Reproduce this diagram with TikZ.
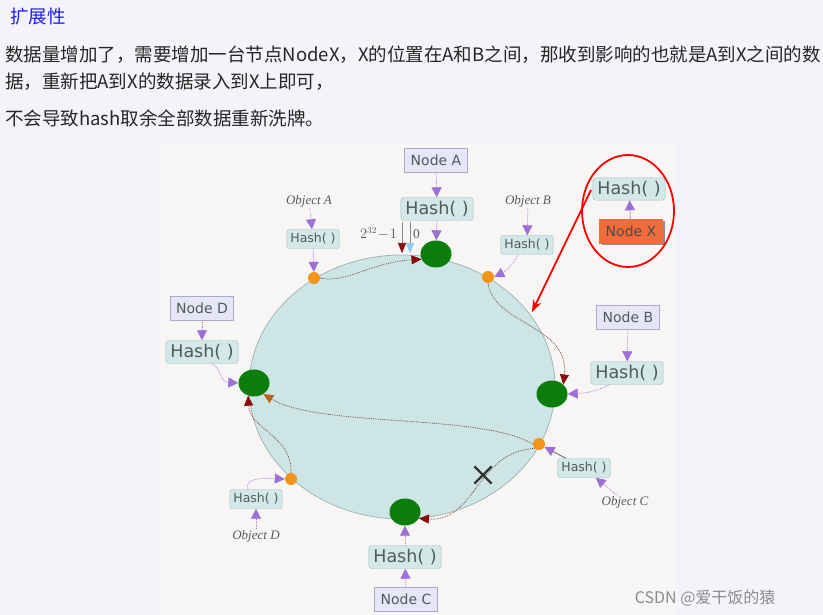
\documentclass[tikz,border=0pt]{standalone}
\usepackage{fontspec}
\setmainfont{Liberation Serif}
\setsansfont{DejaVu Sans}
\newfontfamily\cjkfont{Noto Sans CJK SC}
\usepackage{tikz}
\usetikzlibrary{arrows.meta,shapes.geometric,shapes.misc,shadows,positioning}

\definecolor{pagebg}{HTML}{F3F4F9}
\definecolor{imgbg}{HTML}{F8F6F4}
\definecolor{ringfill}{HTML}{CDE5E5}
\definecolor{ringline}{HTML}{9DB0B0}
\definecolor{nodefill}{HTML}{E6E6F7}
\definecolor{nodeline}{HTML}{A9A9C9}
\definecolor{hashfill}{HTML}{D4E8E8}
\definecolor{hashline}{HTML}{9FBDBD}
\definecolor{labeltext}{HTML}{4F5B5B}
\definecolor{feedpurple}{HTML}{9D6FD8}
\definecolor{routeline}{HTML}{7E4B45}
\definecolor{routetip}{HTML}{8B0A0A}
\definecolor{routetiptwo}{HTML}{B5651D}
\definecolor{greennode}{HTML}{0A7D0A}
\definecolor{dotorange}{HTML}{F29418}
\definecolor{nodexfill}{HTML}{F26B3A}
\definecolor{headblue}{HTML}{1F1FF0}
\definecolor{zeroblue}{HTML}{90C8F0}

\begin{document}
\begin{tikzpicture}[x=1pt,y=-1pt]
  \tikzset{
    bodytxt/.style={font=\cjkfont\fontsize{18.5}{22}\selectfont, text=black!85, inner sep=0pt, anchor=base west},
    headtxt/.style={bodytxt, text=headblue},
    nodebox/.style={draw=nodeline, fill=nodefill, font=\sffamily\fontsize{14}{16}\selectfont, text=labeltext, minimum width=63pt, minimum height=24pt, inner xsep=5pt},
    hashbox/.style={draw=hashline, fill=hashfill, rounded corners=3pt, font=\sffamily\fontsize{17.5}{19}\selectfont, text=labeltext, minimum height=23pt, inner xsep=4.5pt},
    hashsmall/.style={draw=hashline, fill=hashfill, rounded corners=2pt, font=\sffamily\fontsize{12.5}{14}\selectfont, text=labeltext, minimum height=19pt, inner xsep=3.5pt},
    objtxt/.style={font=\itshape\fontsize{13}{15}\selectfont, text=black!65, inner sep=1pt},
    ringnode/.style={ellipse, fill=greennode, minimum width=31pt, minimum height=27pt, inner sep=0pt},
    objdot/.style={circle, fill=dotorange, minimum size=12pt, inner sep=0pt},
    feed/.style={draw=feedpurple!85, densely dotted, line width=0.8pt, -{Triangle[length=10pt,width=10pt,fill=feedpurple,color=feedpurple]}},
    feeddark/.style={feed, draw=black!60, solid},
    route/.style={draw=routeline, densely dotted, line width=0.8pt, -{Triangle[length=10pt,width=9pt,fill=routetip,color=routetip]}},
    routeb/.style={route, -{Triangle[length=10pt,width=9pt,fill=routetiptwo,color=routetiptwo]}},
    marker/.style={draw=black!45, line width=0.6pt},
    redmark/.style={draw=red, line width=1.8pt}
  }
  \useasboundingbox (0,0) rectangle (823,615);
  \fill[pagebg] (0,0) rectangle (823,615);
  \fill[imgbg] (158,143) rectangle (675,615);

  % text above the figure
  \node[headtxt] (title) at (10,24) {扩展性};
  \node[bodytxt] (lineone) at (5,62) {数据量增加了，需要增加一台节点NodeX，X的位置在A和B之间，那收到影响的也就是A到X之间的数};
  \node[bodytxt] (linetwo) at (5,89) {据，重新把A到X的数据录入到X上即可，};
  \node[bodytxt] (linethree) at (5,126) {不会导致hash取余全部数据重新洗牌。};

  % hash ring
  \draw[draw=ringline, fill=ringfill, line width=0.7pt] (402,387) ellipse [x radius=153, y radius=132];

  % servers on the ring
  \node[ringnode] (ringA) at (436,254) {};
  \node[ringnode] (ringB) at (552,394) {};
  \node[ringnode] (ringC) at (405,512) {};
  \node[ringnode] (ringD) at (254,383) {};

  % objects on the ring
  \node[objdot] (dotA) at (314,278) {};
  \node[objdot] (dotB) at (488,277) {};
  \node[objdot] (dotC) at (539,444) {};
  \node[objdot] (dotD) at (291,479) {};

  % Node A
  \node[nodebox] (nodeA) at (436,160) {Node A};
  \node[hashbox] (hashA) at (437,209) {Hash( )};
  \draw[feed] (nodeA) -- (hashA);
  \draw[feed] (hashA) -- (ringA);

  % start / end of the ring
  \coordinate (maxTop) at (402,222);
  \coordinate (maxEnd) at (402,253);
  \coordinate (zeroTop) at (410,222);
  \coordinate (zeroEnd) at (410,253);
  \draw[marker, -{Triangle[length=10pt,width=8pt,fill=routetip,color=routetip]}] (maxTop) -- (maxEnd);
  \draw[marker, -{Triangle[length=10pt,width=8pt,fill=zeroblue,color=zeroblue]}] (zeroTop) -- (zeroEnd);
  \node[objtxt, font=\fontsize{13.5}{15}\selectfont, anchor=east] (lblMax) at (398,234) {$2^{32}\!-\!1$};
  \node[objtxt, font=\fontsize{13.5}{15}\selectfont, anchor=west] (lblZero) at (412,234) {0};

  % Object A
  \node[objtxt] (objA) at (309,201) {Object A};
  \node[hashsmall] (hashOA) at (313,239) {Hash( )};
  \draw[feed] (objA) -- (hashOA);
  \draw[feed] (hashOA) -- (dotA);

  % Object B
  \node[objtxt] (objB) at (528,201) {Object B};
  \node[hashsmall] (hashOB) at (527,245) {Hash( )};
  \draw[feed] (objB) -- (hashOB);
  \draw[feed] ([xshift=-9pt]hashOB.south) .. controls (512,266) and (506,271) .. (dotB.east);

  % Node B
  \node[nodebox] (nodeB) at (628,317) {Node B};
  \node[hashbox] (hashB) at (627,373) {Hash( )};
  \draw[feed] (nodeB) -- (hashB);
  \draw[feed] ([xshift=-18pt]hashB.south) .. controls (600,390) and (588,393) .. (ringB.east);

  % Node D
  \node[nodebox] (nodeD) at (202,308) {Node D};
  \node[hashbox] (hashD) at (202,352) {Hash( )};
  \draw[feed] (nodeD) -- (hashD);
  \draw[feed] ([xshift=10pt]hashD.south) .. controls (222,370) and (220,382) .. (ringD.west);

  % Node C
  \node[hashbox] (hashC) at (405,557) {Hash( )};
  \node[nodebox] (nodeC) at (406,599) {Node C};
  \draw[feed] (nodeC) -- (hashC);
  \draw[feed] (hashC) -- (ringC);

  % Object D
  \node[hashsmall] (hashOD) at (256,499) {Hash( )};
  \node[objtxt] (objD) at (256,536) {Object D};
  \draw[feed] (objD) -- (hashOD);
  \draw[feed] ([xshift=-8pt]hashOD.north) .. controls (244,478) and (262,478) .. (dotD.west);

  % Object C
  \node[hashsmall] (hashOC) at (584,468) {Hash( )};
  \node[objtxt] (objC) at (625,502) {Object C};
  \draw[feed] (objC) -- (hashOC);
  \draw[feeddark] (hashOC) -- (dotC);

  % clockwise lookups
  \draw[route] (dotA.east) .. controls (345,284) and (372,262) .. (ringA.200);
  \draw[route] (dotB.south) .. controls (494,325) and (570,325) .. (ringB.40);
  \draw[routeb] (dotC.west) .. controls (480,413) and (320,428) .. (ringD.-50);
  \draw[route] (dotD.north) .. controls (292,435) and (250,430) .. (ringD.245);
  \draw[route] (dotC.south west) .. controls (476,452) and (476,522) .. (ringC.-25);
  \node[cross out, draw=black!80, line width=2.2pt, minimum size=15pt, inner sep=0pt] (lost) at (483,475) {};

  % new server X
  \node[hashbox, minimum height=21pt] (hashX) at (629,189) {Hash( )};
  \node[nodebox, fill=nodexfill, draw=nodexfill, text=black!70, drop shadow={shadow xshift=2.5pt, shadow yshift=-2.5pt, fill=black!45, opacity=1}] (nodeX) at (631,231) {Node X};
  \draw[feed, solid, draw=black!35] (nodeX) -- (hashX);
  \draw[redmark] (628,211) ellipse [x radius=46, y radius=56];
  \coordinate (xFrom) at (591,190);
  \coordinate (xTo) at (532,312);
  \draw[redmark, -{Stealth[length=12pt,width=9pt]}] (xFrom) -- (xTo);

  % watermark
  \node[font=\cjkfont\fontsize{16}{18}\selectfont, text=black!45, anchor=east] (wmark) at (779,598) {CSDN @爱干饭的猿};
\end{tikzpicture}
\end{document}
